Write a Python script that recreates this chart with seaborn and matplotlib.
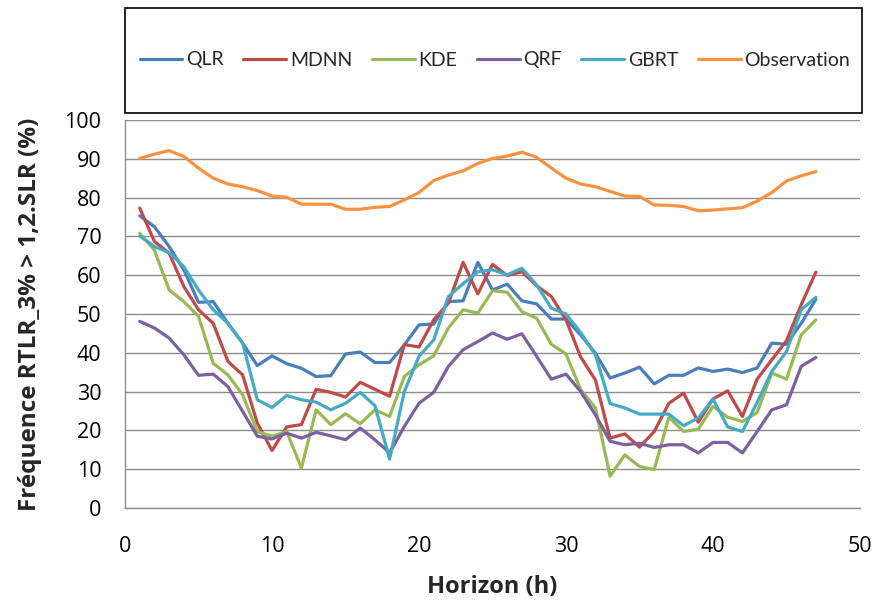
import numpy as np
import pandas as pd
import matplotlib
matplotlib.use("Agg")
import matplotlib.pyplot as plt
import seaborn as sns
from matplotlib.patches import Rectangle

# Données (horizon 1..47 h)
horizon = list(range(1, 48))

qlr = [75.3, 72.5, 67.4, 61.4, 53.0, 53.2, 47.6, 42.5, 36.7, 39.2,
       37.2, 36.0, 33.9, 34.1, 39.7, 40.2, 37.5, 37.5, 42.0, 47.2,
       47.4, 53.2, 53.4, 63.3, 56.2, 57.7, 53.4, 52.6, 48.7, 48.7,
       44.6, 39.9, 33.5, 34.8, 36.3, 32.0, 34.2, 34.2, 36.1, 35.2,
       35.8, 34.9, 36.1, 42.5, 42.2, 47.6, 53.8]
mdnn = [77.3, 68.7, 65.7, 57.1, 51.1, 47.6, 37.8, 34.3, 21.9, 14.8,
        20.9, 21.5, 30.6, 29.8, 28.6, 32.4, 30.6, 28.8, 42.1, 41.5,
        48.5, 52.8, 63.3, 55.2, 62.8, 59.9, 60.9, 57.3, 54.5, 48.5,
        38.9, 33.0, 18.0, 19.1, 15.7, 19.7, 27.0, 29.6, 22.1, 28.1,
        30.2, 23.6, 33.2, 38.2, 43.1, 52.4, 60.8]
kde = [70.8, 66.5, 56.2, 53.2, 49.4, 37.3, 34.3, 29.2, 19.7, 18.5,
       19.7, 10.3, 25.3, 21.5, 24.3, 21.7, 25.3, 23.6, 33.9, 36.9,
       39.2, 46.4, 51.1, 50.2, 56.0, 55.6, 50.6, 48.9, 42.2, 39.7,
       30.5, 25.8, 8.2, 13.7, 10.7, 9.9, 23.4, 19.7, 20.3, 26.2,
       23.4, 22.3, 24.6, 34.8, 33.2, 44.6, 48.5]
qrf = [48.1, 46.4, 43.8, 39.5, 34.2, 34.5, 31.3, 24.9, 18.5, 17.8,
       19.3, 18.0, 19.5, 18.6, 17.6, 20.6, 17.6, 14.2, 21.0, 27.0,
       29.8, 36.5, 40.8, 42.9, 45.1, 43.5, 44.9, 39.1, 33.2, 34.5,
       30.0, 24.0, 17.2, 16.3, 16.7, 15.6, 16.3, 16.3, 14.2, 16.9,
       16.9, 14.2, 19.7, 25.3, 26.6, 36.5, 38.8]
gbrt = [70.1, 67.4, 65.8, 62.2, 56.2, 51.1, 47.6, 42.5, 27.9, 25.9,
        29.0, 27.9, 27.3, 25.3, 27.0, 29.8, 26.4, 12.6, 30.0, 39.1,
        43.3, 54.5, 57.8, 60.9, 61.4, 60.1, 61.8, 57.5, 51.5, 50.0,
        45.2, 39.5, 26.9, 25.8, 24.2, 24.2, 24.2, 21.2, 23.2, 28.1,
        20.9, 19.7, 27.2, 35.2, 40.3, 51.1, 54.3]
observation = [90.1, 91.2, 92.1, 90.6, 87.6, 85.0, 83.5, 82.8, 81.8, 80.4,
               80.1, 78.3, 78.3, 78.3, 77.0, 77.0, 77.5, 77.7, 79.4, 81.3,
               84.4, 85.8, 86.9, 88.8, 90.1, 90.7, 91.7, 90.4, 87.6, 85.0,
               83.5, 82.8, 81.6, 80.4, 80.3, 78.1, 78.0, 77.7, 76.6, 76.8,
               77.1, 77.4, 79.1, 81.3, 84.3, 85.6, 86.7]

series_names = ["QLR", "MDNN", "KDE", "QRF", "GBRT", "Observation"]
series_values = [qlr, mdnn, kde, qrf, gbrt, observation]
colors = ["#4A7EBB", "#BE4B48", "#98B954", "#7D60A0", "#46AAC5", "#F69240"]

df = pd.concat(
    [pd.DataFrame({"Horizon": horizon, "Valeur": v, "Modele": n})
     for n, v in zip(series_names, series_values)],
    ignore_index=True,
)

sns.set_theme(style="white")
plt.rcParams["font.family"] = ["Open Sans", "DejaVu Sans"]

fig = plt.figure(figsize=(8.75, 6.03), dpi=100)
ax = fig.add_axes([125 / 875, 1 - 508 / 603, 735 / 875, 388 / 603])

sns.lineplot(data=df, x="Horizon", y="Valeur", hue="Modele",
             hue_order=series_names, palette=colors, linewidth=2.3,
             ax=ax, legend=True)

ax.set_xlim(0, 50)
ax.set_ylim(0, 100)
ax.set_xticks(range(0, 51, 10))
ax.set_yticks(range(0, 101, 10))
ax.yaxis.grid(True, color="#8C8C8C", linewidth=1.0)
ax.xaxis.grid(False)
ax.set_axisbelow(True)
for s in ["top", "right"]:
    ax.spines[s].set_visible(False)
for s in ["left", "bottom"]:
    ax.spines[s].set_color("#8C8C8C")
    ax.spines[s].set_linewidth(1.0)
ax.tick_params(axis="both", direction="out", length=5, color="#8C8C8C",
               width=1.0, labelsize=15.5, colors="#8C8C8C", labelcolor="black")
ax.tick_params(axis="x", pad=15)
ax.tick_params(axis="y", pad=12)

ax.set_xlabel("Horizon (h)", fontsize=17, fontweight="bold", labelpad=13)
ax.set_ylabel("Fréquence RTLR_3% > 1,2.SLR (%)", fontsize=17.5,
              fontweight="bold", labelpad=16)

# légende encadrée en haut
handles, labels = ax.get_legend_handles_labels()
ax.get_legend().remove()
fig.patches.append(Rectangle((125 / 875, 1 - 113 / 603), 737 / 875, 105 / 603,
                             transform=fig.transFigure, fill=False,
                             edgecolor="black", linewidth=1.2))
fig.legend(handles, labels, loc="center", bbox_to_anchor=(495 / 875, 1 - 60 / 603),
           ncol=6, frameon=False, handlelength=2.2,
           handletextpad=0.2, columnspacing=1.0,
           prop={"family": ["Lato", "DejaVu Sans"], "size": 14})

fig.savefig("out.png", dpi=100)
